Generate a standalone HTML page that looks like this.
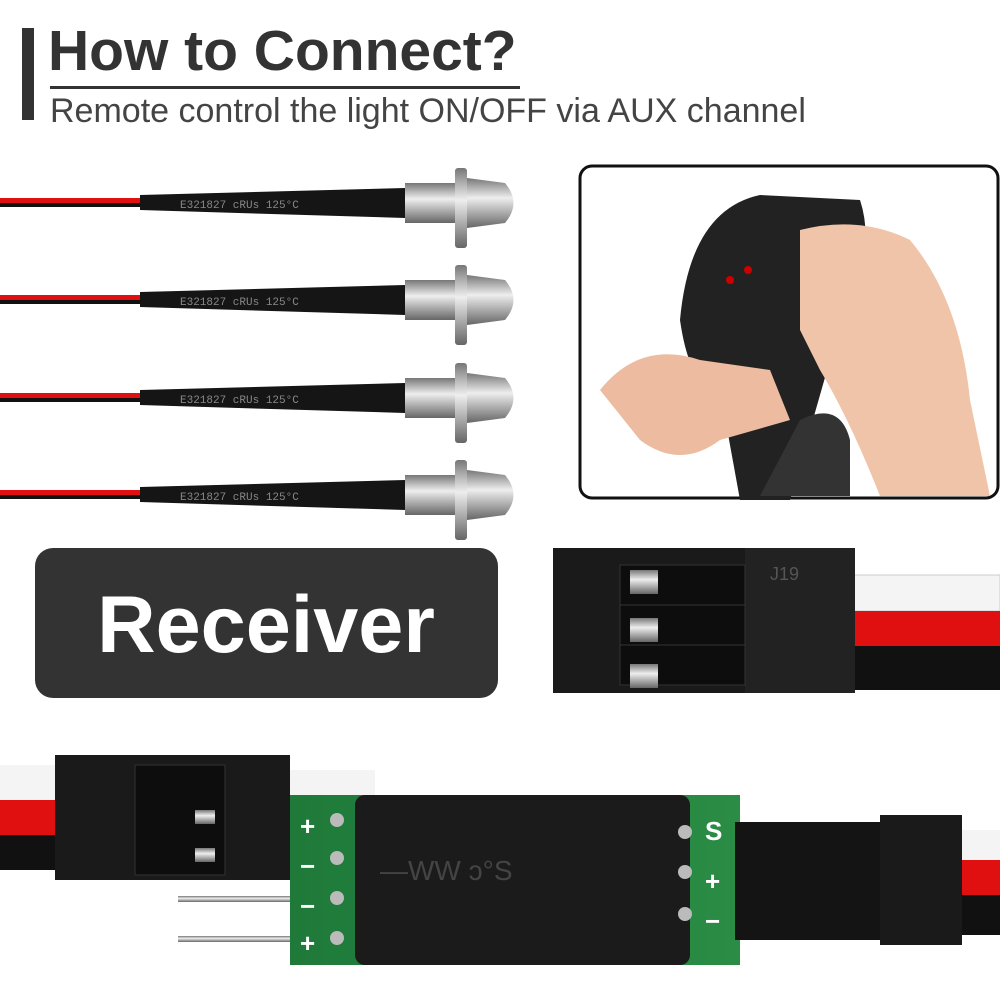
<!DOCTYPE html>
<html><head><meta charset="utf-8"><style>
body{margin:0;width:1000px;height:1000px;background:#fff;position:relative;overflow:hidden;font-family:"Liberation Sans",sans-serif}
.a{position:absolute}
</style></head><body>
<div class="a" style="left:22px;top:28px;width:12px;height:92px;background:#333"></div>
<div class="a" style="left:48px;top:18px;font-size:57px;font-weight:bold;color:#333;line-height:66px">How to Connect?</div>
<div class="a" style="left:50px;top:86px;width:470px;height:3px;background:#333"></div>
<div class="a" style="left:50px;top:91px;font-size:34px;color:#444;line-height:40px">Remote control the light ON/OFF via AUX channel</div>

<svg class="a" style="left:0;top:0" width="1000" height="1000">
<defs>
<linearGradient id="m" x1="0" y1="0" x2="0" y2="1"><stop offset="0" stop-color="#777"/><stop offset=".4" stop-color="#eee"/><stop offset="1" stop-color="#666"/></linearGradient>
<linearGradient id="g" x1="0" y1="0" x2="1" y2="0"><stop offset="0" stop-color="#1f7a3a"/><stop offset="1" stop-color="#2a8c45"/></linearGradient>
</defs>
<g id="led">
<rect x="0" y="198" width="150" height="5" fill="#e01010"/><rect x="0" y="203" width="150" height="4" fill="#111"/>
<path d="M140 195 L405 188 L405 218 L140 210Z" fill="#151515"/>
<text x="180" y="208" font-size="11" fill="#888" font-family="Liberation Mono">E321827  cRUs  125°C</text>
<rect x="405" y="183" width="50" height="40" fill="url(#m)"/>
<rect x="455" y="168" width="12" height="80" rx="3" fill="url(#m)"/>
<path d="M467 178 L505 183 Q522 203 505 223 L467 228Z" fill="url(#m)"/>
</g>
<use href="#led" y="97"/><use href="#led" y="195"/><use href="#led" y="292"/>

<rect x="580" y="166" width="418" height="332" rx="12" fill="#fff" stroke="#111" stroke-width="3"/>
<path d="M680 320 Q690 210 760 195 L860 200 Q880 260 830 360 L790 500 L740 500 L720 390 Q690 390 680 320Z" fill="#222"/>
<path d="M800 420 Q840 400 850 440 L850 496 L760 496Z" fill="#333"/>
<path d="M800 230 Q860 215 910 240 Q960 300 970 400 L990 496 L880 496 Q850 420 820 370 L800 330Z" fill="#f0c4a8"/>
<path d="M600 390 Q640 340 700 360 L770 370 L790 420 L720 440 Q680 470 640 440Z" fill="#ecbba0"/>
<circle cx="730" cy="280" r="4" fill="#c00"/><circle cx="748" cy="270" r="4" fill="#c00"/>

<rect x="35" y="548" width="463" height="150" rx="18" fill="#333"/>
<text x="266" y="652" font-size="81" font-weight="bold" fill="#fff" text-anchor="middle">Receiver</text>

<rect x="850" y="575" width="150" height="36" fill="#f4f4f4" stroke="#ccc"/>
<rect x="850" y="611" width="150" height="35" fill="#e01010"/>
<rect x="850" y="646" width="150" height="44" fill="#111"/>
<rect x="553" y="548" width="302" height="145" fill="#1a1a1a"/>
<rect x="745" y="548" width="110" height="145" fill="#222"/>
<text x="770" y="580" font-size="18" fill="#555">J19</text>
<rect x="620" y="565" width="125" height="40" fill="#0d0d0d" stroke="#333"/>
<rect x="620" y="605" width="125" height="40" fill="#0d0d0d" stroke="#333"/>
<rect x="620" y="645" width="125" height="40" fill="#0d0d0d" stroke="#333"/>
<rect x="630" y="570" width="28" height="24" fill="url(#m)"/><rect x="630" y="618" width="28" height="24" fill="url(#m)"/><rect x="630" y="664" width="28" height="24" fill="url(#m)"/>

<rect x="0" y="765" width="70" height="35" fill="#f4f4f4"/><rect x="0" y="800" width="70" height="35" fill="#e01010"/><rect x="0" y="835" width="70" height="35" fill="#111"/>
<rect x="285" y="770" width="90" height="30" fill="#f4f4f4"/>
<rect x="55" y="755" width="235" height="125" fill="#1a1a1a"/>
<rect x="135" y="765" width="90" height="110" fill="#0d0d0d" stroke="#333"/>
<rect x="195" y="810" width="20" height="14" fill="url(#m)"/><rect x="195" y="848" width="20" height="14" fill="url(#m)"/>
<rect x="178" y="896" width="115" height="6" fill="url(#m)"/><rect x="178" y="936" width="115" height="6" fill="url(#m)"/>
<rect x="290" y="795" width="450" height="170" fill="url(#g)"/>
<rect x="355" y="795" width="335" height="170" rx="10" fill="#1b1b1b"/>
<text x="380" y="880" font-size="28" fill="#444">—WW      ɔ°S</text>
<g fill="#fff" font-size="26" font-weight="bold"><text x="300" y="835">+</text><text x="300" y="875">−</text><text x="300" y="915">−</text><text x="300" y="952">+</text><text x="705" y="840">S</text><text x="705" y="890">+</text><text x="705" y="930">−</text></g>
<g fill="#bbb"><circle cx="337" cy="820" r="7"/><circle cx="337" cy="858" r="7"/><circle cx="337" cy="898" r="7"/><circle cx="337" cy="938" r="7"/><circle cx="685" cy="832" r="7"/><circle cx="685" cy="872" r="7"/><circle cx="685" cy="914" r="7"/></g>
<rect x="955" y="830" width="45" height="30" fill="#f4f4f4"/><rect x="955" y="860" width="45" height="35" fill="#e01010"/><rect x="955" y="895" width="45" height="40" fill="#111"/>
<rect x="735" y="822" width="150" height="118" fill="#141414"/>
<rect x="880" y="815" width="82" height="130" fill="#1a1a1a"/>
</svg>
</body></html>
